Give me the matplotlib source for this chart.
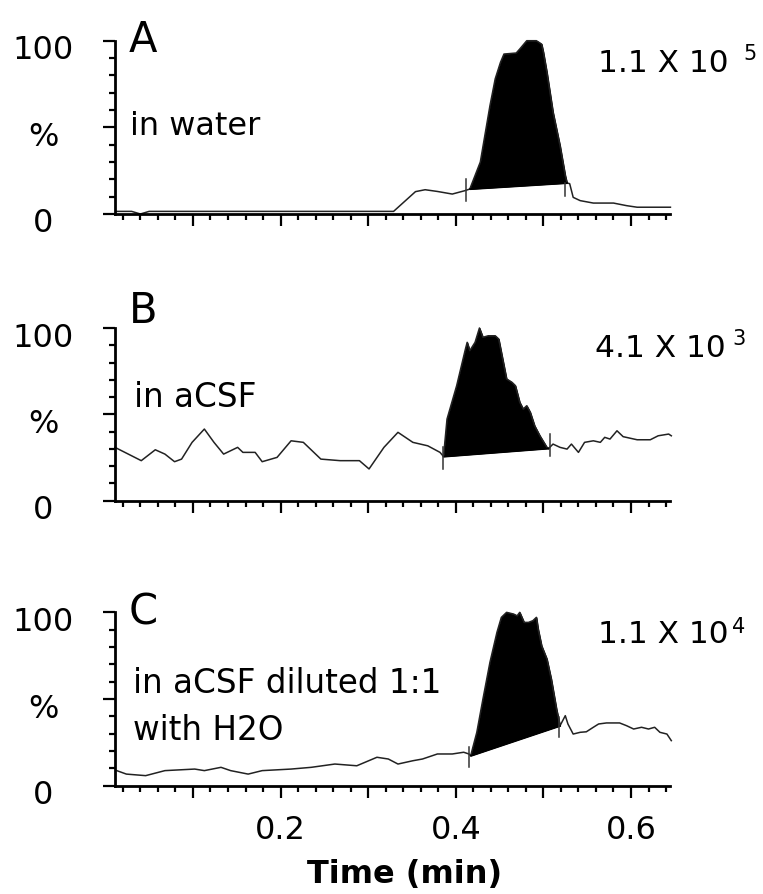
import numpy as np
import matplotlib.pyplot as plt
from matplotlib import transforms
from matplotlib.ticker import MultipleLocator, FixedLocator, FuncFormatter

# chromatograms: time (min) vs relative intensity (%)

# A - in water
time_a = [0.012, 0.03, 0.04, 0.05, 0.10, 0.20, 0.30, 0.329, 0.354, 0.365, 0.379, 0.396,
          0.41, 0.416, 0.428, 0.439, 0.445, 0.451, 0.455, 0.469, 0.473, 0.481, 0.492,
          0.498, 0.500, 0.504, 0.511, 0.519, 0.525, 0.527, 0.530, 0.534, 0.542, 0.557,
          0.580, 0.595, 0.607, 0.645]
int_a = [1.5, 1.5, 0, 1.5, 1.5, 1.5, 1.5, 1.5, 12.9, 14, 13, 11.5,
         13.4, 14.4, 30, 62.5, 78, 87.5, 92.3, 92.9, 95.2, 100, 100,
         98, 93.3, 81.8, 58.7, 39.4, 22.1, 17.9, 17.5, 9.6, 7.7, 6.3,
         6.3, 4.8, 3.9, 3.9]
peak_a = (0.416, 0.527)
cuts_a = [(0.412, 7.7, 20.2), (0.525, 10.6, 17.9)]

# B - in aCSF
time_b = [0.011, 0.041, 0.057, 0.068, 0.079, 0.087, 0.099, 0.113, 0.124, 0.135, 0.151,
          0.157, 0.171, 0.179, 0.196, 0.212, 0.226, 0.246, 0.268, 0.290, 0.301, 0.318,
          0.334, 0.351, 0.368, 0.382, 0.386, 0.390, 0.401, 0.411, 0.413, 0.416, 0.422,
          0.427, 0.431, 0.437, 0.445, 0.449, 0.452, 0.458, 0.464, 0.468, 0.473, 0.477,
          0.481, 0.485, 0.490, 0.496, 0.504, 0.506, 0.511, 0.519, 0.527, 0.532, 0.540,
          0.547, 0.557, 0.565, 0.570, 0.576, 0.584, 0.591, 0.607, 0.622, 0.631, 0.643,
          0.646]
int_b = [30.9, 23.2, 29.5, 27, 22.6, 24.1, 33.8, 41.5, 33.8, 27, 30.9,
         28, 28, 22.6, 25.1, 34.7, 33.8, 24.1, 23.2, 23.2, 18.4, 30.9,
         39.6, 33.8, 31.8, 28, 25.6, 47.3, 66.6, 87.8, 91.7, 86.9, 91.7,
         100, 94.6, 95.5, 95.5, 93.6, 85.9, 70.5, 68.6, 66.6, 57, 53.1,
         55, 51.2, 43.4, 37.6, 30.9, 30.3, 32.8, 30.9, 29.9, 32.8, 28,
         33.8, 34.7, 33.8, 36.7, 35.7, 40.5, 37.1, 35.3, 35.3, 37.6, 38.6,
         37.6]
peak_b = (0.386, 0.506)
cuts_b = [(0.385, 18.4, 30.9), (0.507, 26.1, 38.6)]

# C - in aCSF diluted 1:1 with H2O
time_c = [0.013, 0.024, 0.046, 0.068, 0.102, 0.113, 0.132, 0.143, 0.163, 0.179, 0.212,
          0.235, 0.262, 0.287, 0.310, 0.323, 0.334, 0.351, 0.362, 0.379, 0.396, 0.409,
          0.415, 0.417, 0.424, 0.431, 0.439, 0.447, 0.452, 0.458, 0.466, 0.470, 0.473,
          0.478, 0.483, 0.488, 0.492, 0.494, 0.498, 0.504, 0.509, 0.515, 0.519, 0.525,
          0.528, 0.534, 0.542, 0.549, 0.557, 0.563, 0.572, 0.587, 0.595, 0.603, 0.612,
          0.620, 0.627, 0.633, 0.641, 0.646]
int_c = [8.7, 6.7, 5.8, 8.7, 9.6, 8.7, 10.6, 8.7, 6.7, 8.7, 9.6,
         10.6, 12.5, 11.5, 16.4, 15.4, 12.5, 14.4, 15.4, 18.3, 18.3, 19.3,
         18.3, 17.3, 30.8, 50, 71.2, 88.5, 97.1, 100, 99, 98, 100,
         94.2, 94.2, 95.2, 97.1, 90.4, 80.7, 73.1, 61.5, 44.2, 34.6, 40.4,
         35.6, 29.8, 30.8, 31.1, 33.7, 35.6, 36.2, 36.2, 34.6, 32.7, 33.7,
         32.7, 33.7, 30.8, 29.8, 26]
peak_c = (0.417, 0.519)
cuts_c = [(0.415, 10.8, 22.3), (0.518, 28.1, 39.6)]

letters = ['A', 'B', 'C']
scales = [('1.1 X 10', '5'), ('4.1 X 10', '3'), ('1.1 X 10', '4')]

fig = plt.figure(figsize=(7.63, 8.95), dpi=100)
boxes = [[0.1507, 0.7598, 0.7274, 0.1936],
         [0.1507, 0.4394, 0.7274, 0.1930],
         [0.1507, 0.1210, 0.7274, 0.1937]]
series = [(time_a, int_a, peak_a, cuts_a),
          (time_b, int_b, peak_b, cuts_b),
          (time_c, int_c, peak_c, cuts_c)]

axes = []
for i, box in enumerate(boxes):
    ax = fig.add_axes(box)
    axes.append(ax)
    t, v, pk, cuts = series[i]
    t = np.array(t)
    v = np.array(v)
    ax.plot(t, v, color='#222222', lw=1.1, clip_on=False)
    # integrated peak: filled above a straight baseline
    m = (t >= pk[0]) & (t <= pk[1])
    v0 = np.interp(pk[0], t, v)
    v1 = np.interp(pk[1], t, v)
    base = np.interp(t[m], [pk[0], pk[1]], [v0, v1])
    ax.fill_between(t[m], base, v[m], color='black', lw=0.8)
    ax.plot([pk[0], pk[1]], [v0, v1], color='black', lw=1.1)
    for ct, lo, hi in cuts:
        ax.plot([ct, ct], [lo, hi], color='#333333', lw=1.1)

    ax.set_xlim(0.011, 0.6445)
    ax.set_ylim(0, 100)
    for s in ['top', 'right']:
        ax.spines[s].set_visible(False)
    for s in ['left', 'bottom']:
        ax.spines[s].set_linewidth(2)
    ax.yaxis.set_major_locator(FixedLocator([0, 50, 100]))
    ax.yaxis.set_minor_locator(MultipleLocator(10))
    ax.xaxis.set_major_locator(MultipleLocator(0.1))
    ax.xaxis.set_minor_locator(MultipleLocator(0.02))
    ax.tick_params(which='major', length=8.4, width=1.6, direction='out')
    ax.tick_params(which='minor', length=4.5, width=1.6, direction='out')
    ax.tick_params(axis='y', labelleft=False)

    # y labels: 100 / % / 0, centred left of the axis
    tr = transforms.blended_transform_factory(ax.transAxes, ax.transData)
    tr = transforms.offset_copy(tr, fig=fig, x=0, y=-9, units='dots')
    for yv, lab in zip([0, 50, 100], ['0', '%', '100']):
        ax.text(-0.1297, yv, lab, transform=tr, ha='center', va='center', fontsize=23)

    ax.text(0.025, [0.942, 1.035, 0.933][i], letters[i], transform=ax.transAxes,
            fontsize=30, va='baseline', ha='left')
    main, sup = scales[i]
    ax.text([0.870, 0.865, 0.870][i], [0.825, 0.838, 0.829][i], main,
            transform=ax.transAxes, fontsize=22.5, va='baseline', ha='left')
    ax.text([1.133, 1.112, 1.112][i], [0.894, 0.907, 0.885][i], sup,
            transform=ax.transAxes, fontsize=15, va='baseline', ha='left')

axes[0].text(0.027, 0.4616, 'in water', transform=axes[0].transAxes,
             fontsize=23, va='baseline')
axes[1].text(0.034, 0.548, 'in aCSF', transform=axes[1].transAxes,
             fontsize=23.5, va='baseline')
axes[2].text(0.032, 0.539, 'in aCSF diluted 1:1', transform=axes[2].transAxes,
             fontsize=23.5, va='baseline')
axes[2].text(0.032, 0.269, 'with H2O', transform=axes[2].transAxes,
             fontsize=23.5, va='baseline')

axes[0].tick_params(axis='x', labelbottom=False)
axes[1].tick_params(axis='x', labelbottom=False)
axc = axes[2]
axc.xaxis.set_major_formatter(FuncFormatter(
    lambda x, pos: f'{x:.1f}' if round(x * 10) % 2 == 0 and x > 0.05 else ''))
axc.tick_params(axis='x', labelsize=23, pad=12)
axc.set_xlabel('Time (min)', fontsize=23, fontweight='bold')
axc.xaxis.set_label_coords(0.5225, -0.415)
axc.xaxis.label.set_va('top')

fig.savefig('out.png', dpi=100)
